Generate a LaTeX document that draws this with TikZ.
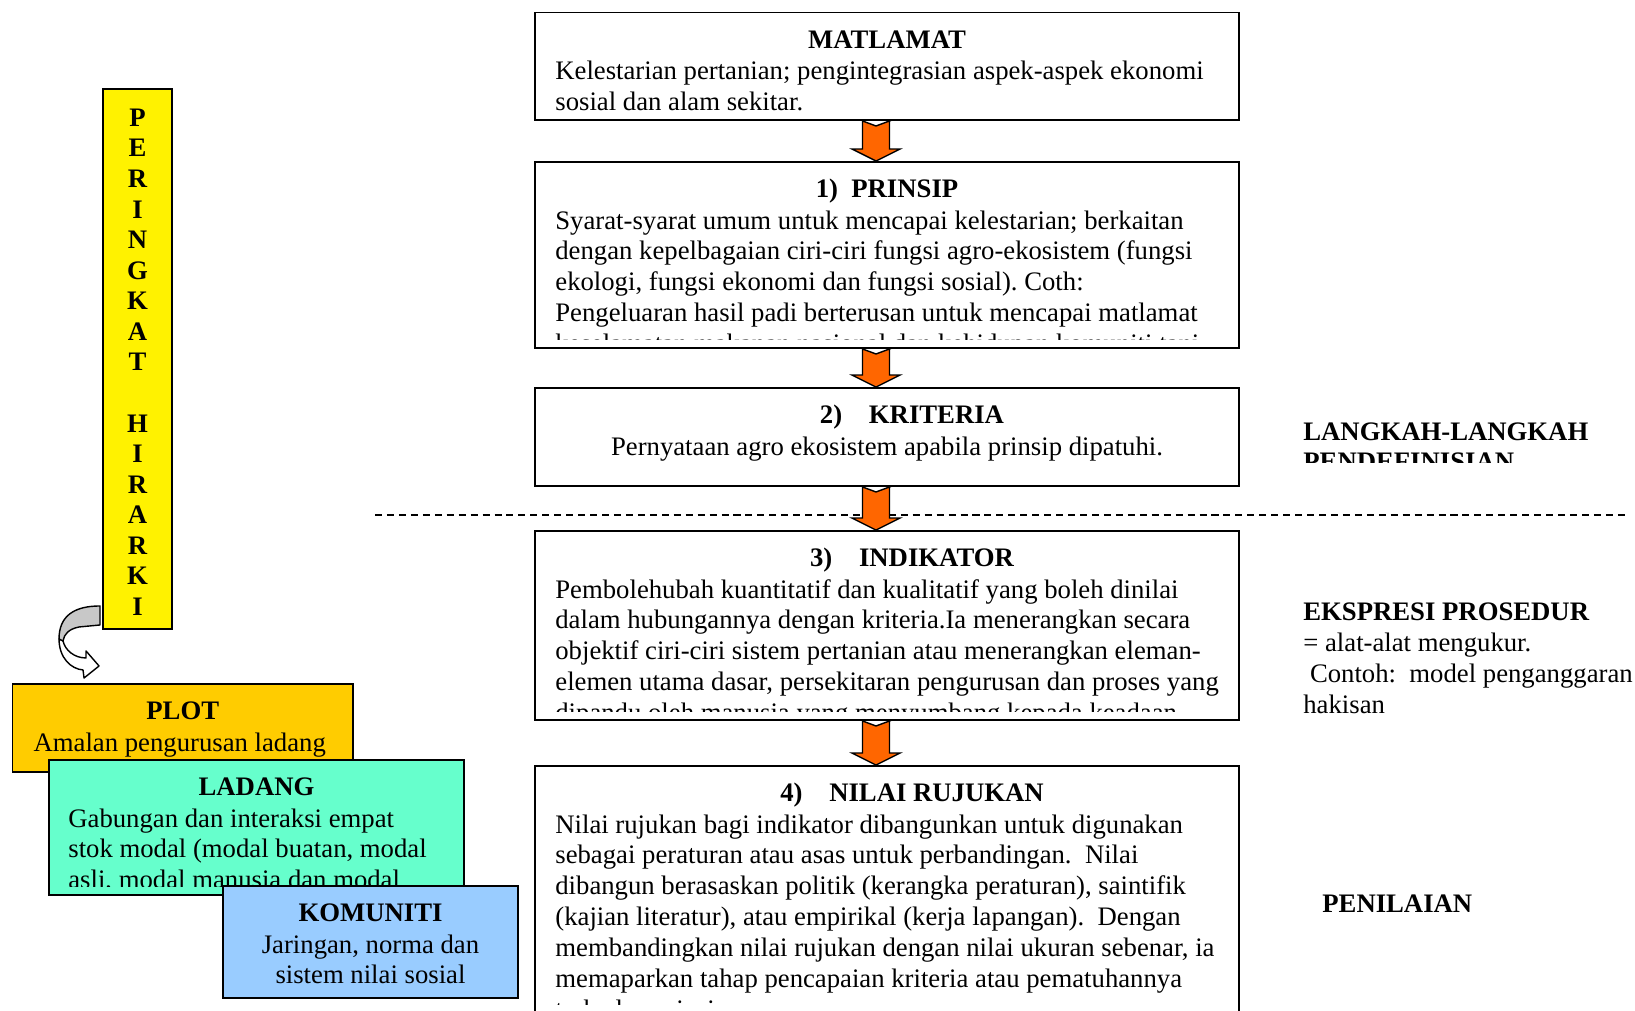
\documentclass[tikz,border=0pt]{standalone}
\usepackage{fontspec}
\setmainfont{Liberation Serif}
\usetikzlibrary{calc}

\definecolor{arrorange}{HTML}{FF6600}
\definecolor{plotgold}{HTML}{FFCC00}
\definecolor{ladanggreen}{HTML}{66FFCC}
\definecolor{komunitiblue}{HTML}{99CCFF}
\definecolor{ribbongray}{HTML}{C8C8C8}

\begin{document}
\begin{tikzpicture}[
  font=\fontsize{15.2}{17.6}\selectfont\frenchspacing,
  stagebox/.style={draw, line width=1.1pt, fill=white, minimum width=14.08cm, inner sep=0},
  levelbox/.style={draw, line width=1.1pt, inner sep=0},
  boxtitle/.style={anchor=base, inner sep=0, font=\fontsize{15.2}{17.6}\selectfont\bfseries},
  bodyleft/.style={anchor=north west, inner sep=0, align=left},
  bodycenter/.style={anchor=north, inner sep=0, align=center},
  blockarrow/.style={draw, line width=0.8pt, fill=arrorange, line join=miter},
  ribbon/.style={draw, line width=0.8pt, line join=round}
]
\useasboundingbox (0,0) rectangle (32.7,-20.2);
\clip (0,0) rectangle (32.7,-20.2);

% tahap-tahap (kanan)
\node[stagebox, minimum height=2.15cm] (matlamat) at (17.74,-1.325) {};
\node[stagebox, minimum height=3.72cm] (prinsip) at (17.74,-5.10) {};
\node[stagebox, minimum height=1.96cm] (kriteria) at (17.74,-8.74) {};
\node[stagebox, minimum height=3.78cm] (indikator) at (17.74,-12.51) {};
\node[stagebox, minimum height=4.94cm] (nilai) at (17.74,-17.79) {};

\node[boxtitle] (matlamatT) at ([yshift=-0.73cm]matlamat.north) {MATLAMAT};
\node[bodyleft] (matlamatB) at ([xshift=0.42cm, yshift=-0.92cm]matlamat.north west)
  {\strut Kelestarian pertanian; pengintegrasian aspek-aspek ekonomi\\sosial dan alam sekitar.};

\node[boxtitle] (prinsipT) at ([yshift=-0.73cm]prinsip.north) {1)\ \ PRINSIP};
\begin{scope}
  \clip (prinsip.north west) rectangle ([yshift=0.18cm]prinsip.south east);
  \node[bodyleft] (prinsipB) at ([xshift=0.42cm, yshift=-0.92cm]prinsip.north west)
    {\strut Syarat-syarat umum untuk mencapai kelestarian; berkaitan\\
     dengan kepelbagaian ciri-ciri fungsi agro-ekosistem (fungsi\\
     ekologi, fungsi ekonomi dan fungsi sosial). Coth:\\
     Pengeluaran hasil padi berterusan untuk mencapai matlamat\\
     keselamatan makanan nasional dan kehidupan komuniti tani};
\end{scope}

\node[boxtitle] (kriteriaT) at ([xshift=0.5cm, yshift=-0.73cm]kriteria.north) {2)\quad KRITERIA};
\node[bodycenter] (kriteriaB) at ([yshift=-0.92cm]kriteria.north)
  {\strut Pernyataan agro ekosistem apabila prinsip dipatuhi.};

\node[boxtitle] (indikatorT) at ([xshift=0.5cm, yshift=-0.73cm]indikator.north) {3)\quad INDIKATOR};
\begin{scope}
  \clip (indikator.north west) rectangle ([yshift=0.18cm]indikator.south east);
  \node[bodyleft] (indikatorB) at ([xshift=0.42cm, yshift=-0.92cm]indikator.north west)
    {\strut Pembolehubah kuantitatif dan kualitatif yang boleh dinilai\\
     dalam hubungannya dengan kriteria.Ia menerangkan secara\\
     objektif ciri-ciri sistem pertanian atau menerangkan eleman-\\
     elemen utama dasar, persekitaran pengurusan dan proses yang\\
     dipandu oleh manusia yang menyumbang kepada keadaan};
\end{scope}

\node[boxtitle] (nilaiT) at ([xshift=0.5cm, yshift=-0.73cm]nilai.north) {4)\quad NILAI RUJUKAN};
\begin{scope}
  \clip (nilai.north west) rectangle ([yshift=0.18cm]nilai.south east);
  \node[bodyleft] (nilaiB) at ([xshift=0.42cm, yshift=-0.92cm]nilai.north west)
    {\strut Nilai rujukan bagi indikator dibangunkan untuk digunakan\\
     sebagai peraturan atau asas untuk perbandingan.\ \ Nilai\\
     dibangun berasaskan politik (kerangka peraturan), saintifik\\
     (kajian literatur), atau empirikal (kerja lapangan).\ \ Dengan\\
     membandingkan nilai rujukan dengan nilai ukuran sebenar, ia\\
     memaparkan tahap pencapaian kriteria atau pematuhannya\\
     terhadap prinsip};
\end{scope}

% garis pemisah
\draw[line width=1pt, dash pattern=on 4pt off 2.8pt] (7.5,-10.3) -- (32.54,-10.3);

% anak panah oren
\coordinate (ax) at (17.52,0);
\foreach \a/\b in {matlamat/prinsip, prinsip/kriteria, kriteria/indikator, indikator/nilai} {
  \coordinate (s) at (\a.south -| ax);
  \coordinate (t) at (\b.north -| ax);
  \draw[blockarrow] (t) -- ++(0.48,0.24) -- ++(-0.21,0) |- ($(s)+(0.27,0)$)
    -- ($(s)+(0,-0.1)$) -- ($(s)+(-0.27,0)$) |- ($(t)+(-0.48,0.24)$) -- cycle;
}

% label kanan
\begin{scope}
  \clip (26,-8.0) rectangle (32.7,-9.24);
  \node[bodyleft, font=\fontsize{15.2}{17.6}\selectfont\bfseries] (langkah) at (26.06,-8.36)
    {\strut LANGKAH-LANGKAH\\PENDEFINISIAN};
\end{scope}
\node[bodyleft] (ekspresi) at (26.06,-11.97)
  {\strut\textbf{EKSPRESI PROSEDUR}\\= alat-alat mengukur.\\\ Contoh:\ \ model penganggaran\\hakisan};
\node[anchor=base west, inner sep=0, font=\fontsize{15.2}{17.6}\selectfont\bfseries] (penilaian) at (26.44,-18.25) {PENILAIAN};

% peringkat hirarki (kiri)
\node[levelbox, fill=yellow, minimum width=1.38cm, minimum height=10.8cm, align=center,
      font=\fontsize{15.2}{17.4}\selectfont\bfseries] (hirarki) at (2.75,-7.18)
  {};
\node[align=center, inner sep=0, font=\fontsize{15.2}{17.4}\selectfont\bfseries] (hirarkiT)
  at ([yshift=-0.063cm]hirarki.center)
  {P\\E\\R\\I\\N\\G\\K\\A\\T\\\mbox{}\\H\\I\\R\\A\\R\\K\\I};

\begin{scope}[shift={(hirarki.south west)}]
  \draw[ribbon, fill=white] (-0.86,-0.18) .. controls (-0.86,-0.56) and (-0.62,-0.78) .. (-0.38,-0.80)
    -- (-0.36,-0.96) -- (-0.06,-0.72) -- (-0.32,-0.42) -- (-0.32,-0.56)
    .. controls (-0.56,-0.56) and (-0.74,-0.40) .. (-0.78,-0.22) -- cycle;
  \draw[ribbon, fill=ribbongray] (-0.04,0.48) .. controls (-0.56,0.48) and (-0.86,0.28) .. (-0.86,-0.18)
    -- (-0.78,-0.22) .. controls (-0.76,-0.08) and (-0.66,0.02) .. (-0.46,0.06) -- (-0.04,0.10) -- cycle;
\end{scope}

\node[levelbox, fill=plotgold, minimum width=6.81cm, minimum height=1.76cm] (plot) at (3.655,-14.56) {};
\node[boxtitle] (plotT) at ([yshift=-0.73cm]plot.north) {PLOT};
\node[bodycenter] (plotB) at ([xshift=-0.06cm, yshift=-0.92cm]plot.north) {\strut Amalan pengurusan ladang};

\node[levelbox, fill=ladanggreen, minimum width=8.30cm, minimum height=2.70cm] (ladang) at (5.13,-16.55) {};
\node[boxtitle] (ladangT) at ([yshift=-0.73cm]ladang.north) {LADANG};
\begin{scope}
  \clip (ladang.north west) rectangle ([yshift=0.18cm]ladang.south east);
  \node[bodyleft] (ladangB) at ([xshift=0.40cm, yshift=-0.92cm]ladang.north west)
    {\strut Gabungan dan interaksi empat\\stok modal (modal buatan, modal\\asli, modal manusia dan modal};
\end{scope}

\node[levelbox, fill=komunitiblue, minimum width=5.90cm, minimum height=2.24cm] (komuniti) at (7.41,-18.84) {};
\node[boxtitle] (komunitiT) at ([yshift=-0.73cm]komuniti.north) {KOMUNITI};
\node[bodycenter] (komunitiB) at ([yshift=-0.92cm]komuniti.north) {\strut Jaringan, norma dan\\sistem nilai sosial};

\end{tikzpicture}
\end{document}
